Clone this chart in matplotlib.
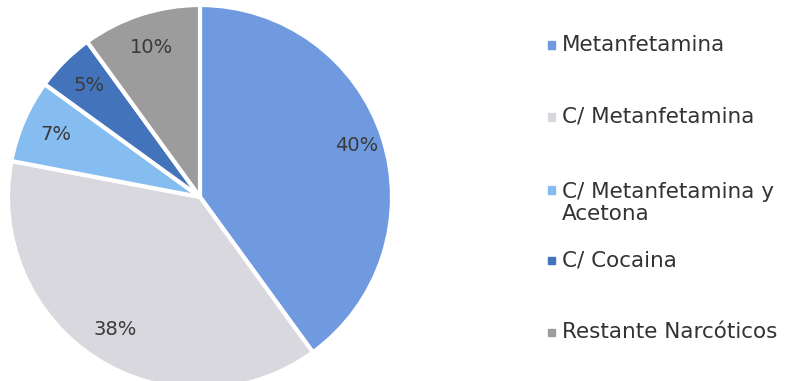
import numpy as np
import matplotlib
matplotlib.use("Agg")
from matplotlib import pyplot as plt
from matplotlib.patches import Rectangle

# data
labels = ["Metanfetamina", "C/ Metanfetamina", "C/ Metanfetamina y\nAcetona",
          "C/ Cocaina", "Restante Narcóticos"]
shares = [40, 38, 7, 5, 10]
pct_text = ["40%", "38%", "7%", "5%", "10%"]
colors = ["#6f9ae0", "#d8d8de", "#86bdf0", "#4373ba", "#9c9c9c"]

plt.rcParams["font.family"] = ["DejaVu Sans"]

fig = plt.figure(figsize=(7.96, 3.81), dpi=100)
W, H = 796, 381
cx, cy, r = 200, 184, 192
ax = fig.add_axes([(cx - r) / W, (cy - r) / H, 2 * r / W, 2 * r / H])

wedges, _ = ax.pie(
    shares,
    colors=colors,
    startangle=90,
    counterclock=False,
    wedgeprops=dict(edgecolor="white", linewidth=3),
)

# percentage labels
for w, txt in zip(wedges, pct_text):
    ang = np.deg2rad((w.theta1 + w.theta2) / 2)
    d = 0.86 if txt == "40%" else 0.82
    ax.text(d * np.cos(ang), d * np.sin(ang), txt, ha="center", va="center",
            fontsize=14, color="#3a3a3a")
ax.set_xlim(-1, 1)
ax.set_ylim(-1, 1)

# legend, laid out by hand like the source
legend_y = [45, 117, 203, 260, 332]
for lab, col, y in zip(labels, colors, legend_y):
    fy = 1 - y / H
    marker_y = fy + (13 / H if "\n" in lab else 0)
    fig.patches.append(Rectangle((548 / W, marker_y - 3.5 / H), 7 / W, 7 / H,
                                 transform=fig.transFigure, color=col))
    fig.text(562 / W, fy, lab, ha="left", va="center",
             fontsize=15.5, color="#333333", linespacing=1.15)

fig.savefig("out.png", dpi=100)
